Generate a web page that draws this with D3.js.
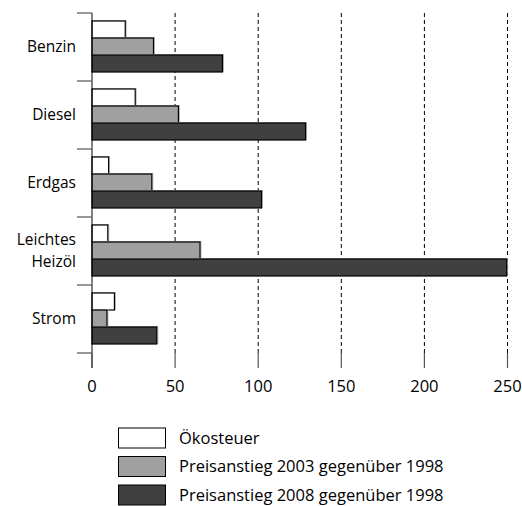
<!DOCTYPE html>
<html><head><meta charset="utf-8">
<script src="https://cdn.jsdelivr.net/npm/d3@7"></script>
<style>body{margin:0;background:#fff}svg text{font-family:"Open Sans",sans-serif;fill:#000}</style>
</head><body><svg id="c" width="522" height="506"></svg>
<script>
const categories = [["Benzin"],["Diesel"],["Erdgas"],["Leichtes","Heizöl"],["Strom"]];
const seriesNames = ["Ökosteuer","Preisanstieg 2003 gegenüber 1998","Preisanstieg 2008 gegenüber 1998"];
const oekosteuer = [20, 26, 10, 9.5, 13.5];
const anstieg2003 = [37, 52, 36, 65, 9];
const anstieg2008 = [78.5, 128.5, 102, 249.5, 39];
const xTicks = [0, 50, 100, 150, 200, 250];
const colors = ["#ffffff", "#a0a0a0", "#404040"];
const FS = 15.5, FS2 = 16.5;

const series = [oekosteuer, anstieg2003, anstieg2008];
const svg = d3.select("#c");
const x = d3.scaleLinear().domain([0, 250]).range([92, 507.5]);
const y = d3.scaleBand().domain(d3.range(categories.length)).range([13, 353]).paddingInner(0).paddingOuter(0);
const inner = d3.scaleBand().domain(d3.range(3)).range([8, y.bandwidth() - 9]);

// grid
svg.append("g").selectAll("line").data(xTicks.filter(d => d > 0)).join("line")
  .attr("x1", d => x(d)).attr("x2", d => x(d)).attr("y1", 13).attr("y2", 353)
  .attr("stroke", "#000").attr("stroke-width", 1).attr("stroke-dasharray", "4,3");

// bars
const g = svg.append("g");
categories.forEach((c, i) => {
  series.forEach((s, j) => {
    const y0 = y(i) + inner(j), h = inner.bandwidth();
    g.append("rect").attr("x", x(0) + 0.5).attr("y", y0 - 0.5).attr("width", x(s[i]) - x(0) + 0.5).attr("height", h)
      .attr("fill", "none").attr("stroke", "#bbb").attr("stroke-width", 1);
    g.append("rect").attr("x", x(0)).attr("y", y0).attr("width", x(s[i]) - x(0)).attr("height", h)
      .attr("fill", colors[j]).attr("stroke", "#000").attr("stroke-width", 1.2);
  });
});

// y axis
const ya = svg.append("g");
ya.append("line").attr("x1", 92).attr("x2", 92).attr("y1", 13).attr("y2", 368).attr("stroke", "#000").attr("stroke-width", 1);
ya.selectAll("line.t").data(d3.range(categories.length + 1)).join("line").attr("class", "t")
  .attr("x1", 77).attr("x2", 92).attr("y1", d => 13 + d * y.step()).attr("y2", d => 13 + d * y.step())
  .attr("stroke", "#555").attr("stroke-width", 1.2);
categories.forEach((c, i) => {
  const cy = y(i) + y.bandwidth() / 2 - 0.5;
  const t = ya.append("text").attr("x", 76).attr("text-anchor", "end").attr("font-size", FS);
  c.forEach((line, k) => {
    t.append("tspan").attr("x", 76).attr("y", cy + (k - (c.length - 1) / 2) * 22).attr("dy", "0.35em").text(line);
  });
});

// x axis ticks
const xa = svg.append("g");
xa.selectAll("line").data(xTicks).join("line")
  .attr("x1", d => x(d)).attr("x2", d => x(d)).attr("y1", 353).attr("y2", 368)
  .attr("stroke", "#555").attr("stroke-width", 1.2);
xa.selectAll("text").data(xTicks).join("text")
  .attr("x", d => x(d)).attr("y", 386).attr("dy", "0.35em").attr("text-anchor", "middle").attr("font-size", FS2).text(d => d);

// legend
const lg = svg.append("g");
seriesNames.forEach((n, j) => {
  const ly = 428 + j * 28.5;
  lg.append("rect").attr("x", 118.5).attr("y", ly).attr("width", 47).attr("height", 20)
    .attr("fill", colors[j]).attr("stroke", "#000").attr("stroke-width", 1);
  lg.append("text").attr("x", 179).attr("y", ly + 10).attr("dy", "0.35em").attr("font-size", FS2).text(n);
});
</script></body></html>
